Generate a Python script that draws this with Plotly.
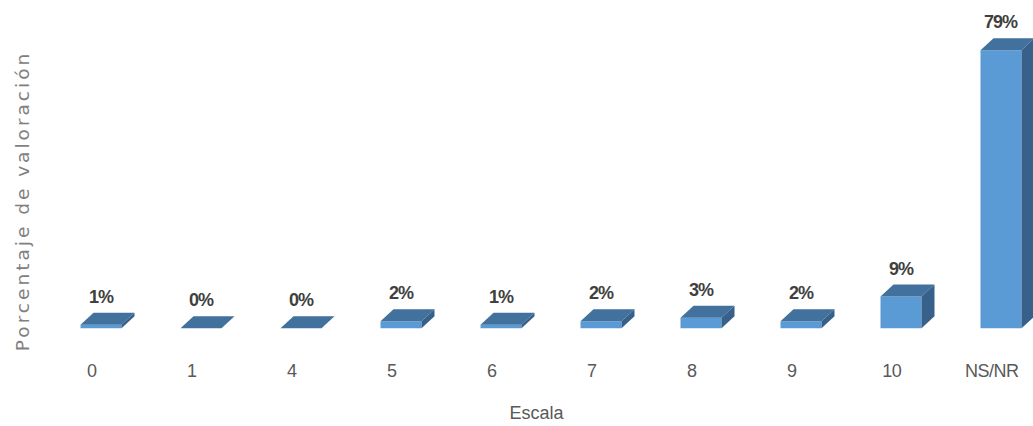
import plotly.graph_objects as go

categories = ["0", "1", "4", "5", "6", "7", "8", "9", "10", "NS/NR"]
values = [1, 0, 0, 2, 1, 2, 3, 2, 9, 79]
value_labels = ["1%", "0%", "0%", "2%", "1%", "2%", "3%", "2%", "9%", "79%"]

# layout / style constants (pixels -> data units)
W, H = 1033, 426
ML, MR, MT, MB = 40, 0, 0, 68
PX_PER_X = 100.0
X0_PIX = 91.7
BASE_PIX = 328.3
PX_PER_Y = 3.52
x_range = [(ML - X0_PIX) / PX_PER_X, (W - MR - X0_PIX) / PX_PER_X]
y_range = [-(H - MB - BASE_PIX) / PX_PER_Y, (BASE_PIX - MT) / PX_PER_Y]

BAR_OFF = 0.093
BAR_W = 0.41
DX = 13 / PX_PER_X
DY = 12 / PX_PER_Y

FRONT = "#5B9BD5"
TOP = "#41719C"
SIDE = "#37618A"
NARROW = "Liberation Sans, sans-serif"

fig = go.Figure()
xs = [i + BAR_OFF for i in range(len(categories))]
fig.add_trace(go.Bar(x=xs, y=values, width=BAR_W, marker=dict(color=FRONT, line=dict(width=0)),
                     hoverinfo="skip", showlegend=False))

for xc, v in zip(xs, values):
    x0, x1 = xc - BAR_W / 2, xc + BAR_W / 2
    # top face
    fig.add_trace(go.Scatter(x=[x0, x1, x1 + DX, x0 + DX, x0], y=[v, v, v + DY, v + DY, v],
                             fill="toself", fillcolor=TOP, mode="lines", line=dict(width=0),
                             hoverinfo="skip", showlegend=False))
    # side face
    fig.add_trace(go.Scatter(x=[x1, x1 + DX, x1 + DX, x1, x1], y=[0, DY, v + DY, v, 0],
                             fill="toself", fillcolor=SIDE, mode="lines", line=dict(width=0),
                             hoverinfo="skip", showlegend=False))

for xc, v, t in zip(xs, values, value_labels):
    fig.add_annotation(x=xc, y=v, text=f'<span style="letter-spacing:-1px">{t}</span>',
                       showarrow=False, yshift=28,
                       font=dict(family=NARROW, size=18, color="#404040", weight="bold"))

fig.add_annotation(xref="paper", yref="paper", x=-0.018, y=0.4385, xanchor="center", yanchor="middle",
                   text='<span style="letter-spacing:3px">Porcentaje de valoración</span>',
                   textangle=-90, showarrow=False,
                   font=dict(family="DejaVu Sans, sans-serif", size=18.5, color="#808080"))

ticktext = [f'<span style="letter-spacing:-0.5px">{c}</span>' for c in categories]
fig.update_layout(
    width=W, height=H,
    margin=dict(l=ML, r=MR, t=MT, b=MB),
    plot_bgcolor="white", paper_bgcolor="white",
    xaxis=dict(range=x_range, tickvals=list(range(len(categories))), ticktext=ticktext,
               showgrid=False, zeroline=False, showline=False, ticks="",
               tickfont=dict(family=NARROW, size=18, color="#595959"),
               title=dict(text="Escala", standoff=26,
                          font=dict(family=NARROW, size=18, color="#595959"))),
    yaxis=dict(range=y_range, showgrid=False, zeroline=False, showline=False, showticklabels=False, ticks=""),
)

fig.write_html("out.html")
